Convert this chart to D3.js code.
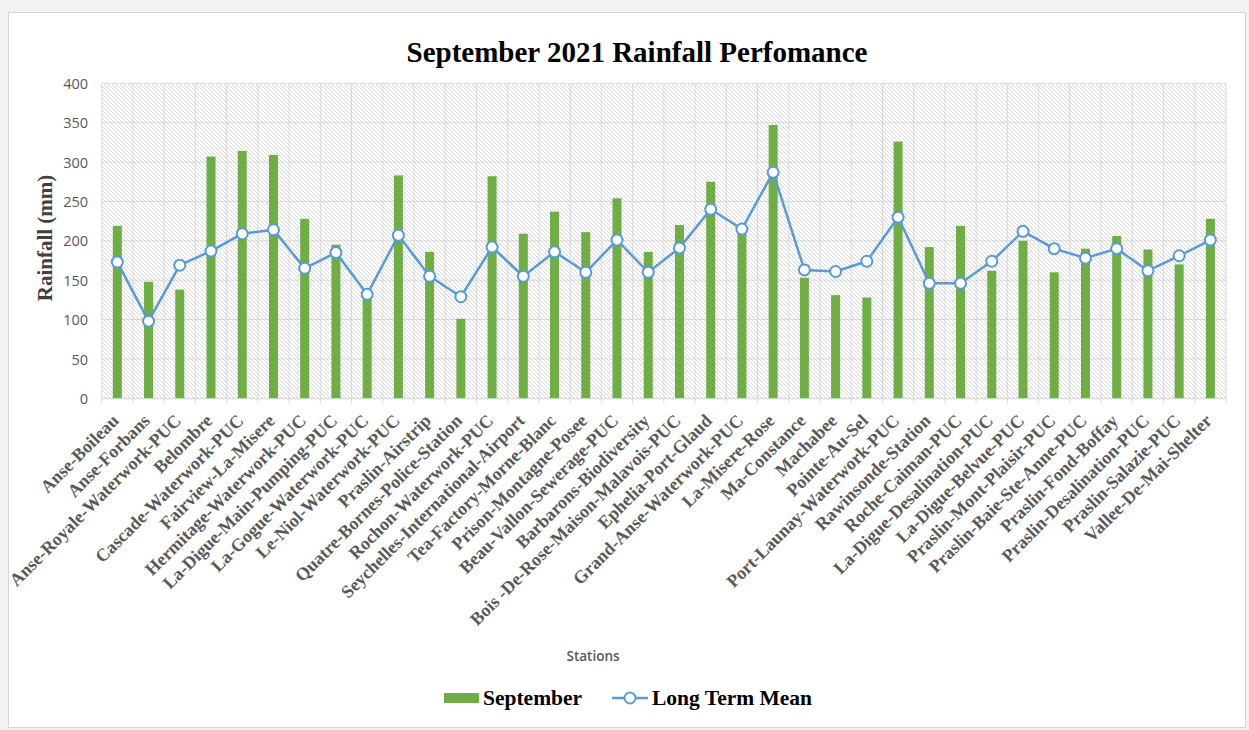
<!DOCTYPE html>
<html>
<head>
<meta charset="utf-8">
<script src="https://cdn.jsdelivr.net/npm/d3@7"></script>
<style>
  html, body { margin: 0; padding: 0; background: #f2f2f2; }
  svg { display: block; }
</style>
</head>
<body>
<svg id="chart" width="1249" height="730"></svg>
<script>
const stations = [
  "Anse-Boileau", "Anse-Forbans", "Anse-Royale-Waterwork-PUC", "Belombre",
  "Cascade-Waterwork-PUC", "Fairview-La-Misere", "Hermitage-Waterwork-PUC",
  "La-Digue-Main-Pumping-PUC", "La-Gogue-Waterwork-PUC", "Le-Niol-Waterwork-PUC",
  "Praslin-Airstrip", "Quatre-Bornes-Police-Station", "Rochon-Waterwork-PUC",
  "Seychelles-International-Airport", "Tea-Factory-Morne-Blanc", "Prison-Montagne-Posee",
  "Beau-Vallon-Sewerage-PUC", "Barbarons-Biodiversity", "Bois -De-Rose-Maison-Malavois-PUC",
  "Ephelia-Port-Glaud", "Grand-Anse-Waterwork-PUC", "La-Misere-Rose", "Ma-Constance",
  "Machabee", "Pointe-Au-Sel", "Port-Launay-Waterwork-PUC", "Rawinsonde-Station",
  "Roche-Caiman-PUC", "La-Digue-Desalination-PUC", "La-Digue-Belvue-PUC",
  "Praslin-Mont-Plaisir-PUC", "Praslin-Baie-Ste-Anne-PUC", "Praslin-Fond-Boffay",
  "Praslin-Desalination-PUC", "Praslin-Salazie-PUC", "Vallee-De-Mai-Shelter"
];
const september = [
  219, 148, 138, 307, 314, 309, 228, 195, 130, 283,
  186, 101, 282, 209, 237, 211, 254, 186, 220, 275,
  210, 347, 153, 131, 128, 326, 192, 219, 162, 200,
  160, 190, 206, 189, 170, 228
];
const longTermMean = [
  173, 98, 169, 187, 209, 214, 165, 185, 132, 207,
  155, 129, 192, 155, 186, 160, 201, 160, 191, 240,
  215, 287, 163, 161, 174, 230, 146, 146, 174, 212,
  190, 178, 190, 162, 181, 201
];
const yTicks = [0, 50, 100, 150, 200, 250, 300, 350, 400];

const W = 1249, H = 730;
const margin = { left: 101.7, right: W - 1226, top: 83.3, bottom: H - 398.3 };
const svg = d3.select("#chart");

// chart frame
svg.append("rect").attr("x", 8.5).attr("y", 12.5).attr("width", 1237).attr("height", 715)
  .attr("fill", "#ffffff").attr("stroke", "#d4d4d4").attr("stroke-width", 1);

const x = d3.scaleBand().domain(stations).range([margin.left, W - margin.right]);
const y = d3.scaleLinear().domain([0, 400]).range([H - margin.bottom, margin.top]);

// hatch pattern
const defs = svg.append("defs");
const pat = defs.append("pattern").attr("id", "hatch").attr("patternUnits", "userSpaceOnUse")
  .attr("width", 4).attr("height", 4);
pat.append("rect").attr("width", 4).attr("height", 4).attr("fill", "#ffffff");
pat.append("path").attr("d", "M-1,-1 L5,5 M-1,3 L1,5 M3,-1 L5,1")
  .attr("stroke", "#d8d8d8").attr("stroke-width", 1);

svg.append("rect")
  .attr("x", x.range()[0]).attr("y", y(400))
  .attr("width", x.range()[1] - x.range()[0]).attr("height", y(0) - y(400))
  .attr("fill", "url(#hatch)");

// horizontal gridlines
svg.append("g").selectAll("line").data(yTicks).join("line")
  .attr("x1", x.range()[0]).attr("x2", x.range()[1])
  .attr("y1", d => y(d)).attr("y2", d => y(d))
  .attr("stroke", "#d9d9d9").attr("stroke-width", 1);

// vertical gridlines at category boundaries (with outward tick marks)
const bounds = stations.map(s => x(s)).concat([x.range()[1]]);
svg.append("g").selectAll("line").data(bounds).join("line")
  .attr("x1", d => d).attr("x2", d => d)
  .attr("y1", y(400)).attr("y2", y(0) + 5)
  .attr("stroke", "#d9d9d9").attr("stroke-width", 1);

// y axis labels
const yAxis = d3.axisLeft(y).tickValues(yTicks).tickSize(0).tickPadding(0);
const gy = svg.append("g").attr("transform", `translate(${88},0)`).call(yAxis);
gy.select(".domain").remove();
gy.selectAll("text").attr("font-family", "'Open Sans', sans-serif").attr("font-size", 14.5)
  .attr("fill", "#595959").attr("dy", "0.35em");

// bars
const bw = 9;
svg.append("g").selectAll("rect").data(september).join("rect")
  .attr("x", (d, i) => x(stations[i]) + x.bandwidth() / 2 - bw / 2)
  .attr("y", d => y(d)).attr("width", bw).attr("height", d => y(0) - y(d))
  .attr("fill", "#70ad47");

// line
const line = d3.line().x((d, i) => x(stations[i]) + x.bandwidth() / 2).y(d => y(d));
svg.append("path").datum(longTermMean).attr("d", line)
  .attr("fill", "none").attr("stroke", "#5b9bd5").attr("stroke-width", 2.5)
  .attr("stroke-linejoin", "round");
svg.append("g").selectAll("circle").data(longTermMean).join("circle")
  .attr("cx", (d, i) => x(stations[i]) + x.bandwidth() / 2).attr("cy", d => y(d))
  .attr("r", 5.5).attr("fill", "#ffffff").attr("stroke", "#5b9bd5").attr("stroke-width", 2);

// x axis labels
const xAxis = d3.axisBottom(x).tickSize(0).tickPadding(0);
const gx = svg.append("g").attr("transform", `translate(0,${y(0)})`).call(xAxis);
gx.select(".domain").attr("stroke", "#d9d9d9");
gx.selectAll(".tick text")
  .attr("font-family", "'Liberation Serif', 'Times New Roman', serif")
  .attr("font-weight", "bold").attr("font-size", 18).attr("fill", "#595959")
  .attr("text-anchor", "end")
  .attr("transform", "translate(-2,19) rotate(-45)")
  .attr("dy", "0.35em").attr("y", 0).attr("x", 0);

// title
svg.append("text").attr("x", 637).attr("y", 62).attr("text-anchor", "middle")
  .attr("font-family", "'Liberation Serif', 'Times New Roman', serif").attr("font-weight", "bold")
  .attr("font-size", 29).attr("fill", "#000").text("September 2021 Rainfall Perfomance");

// y axis title
svg.append("text").attr("transform", "translate(52,238) rotate(-90)").attr("text-anchor", "middle")
  .attr("font-family", "'Liberation Serif', 'Times New Roman', serif").attr("font-weight", "bold")
  .attr("font-size", 21).attr("fill", "#404040").text("Rainfall (mm)");

// x axis title
svg.append("text").attr("x", 593).attr("y", 661).attr("text-anchor", "middle")
  .attr("font-family", "'Open Sans', sans-serif").attr("font-weight", 600)
  .attr("font-size", 13.5).attr("fill", "#595959").text("Stations");

// legend
const leg = svg.append("g");
leg.append("rect").attr("x", 444).attr("y", 693).attr("width", 35).attr("height", 10).attr("fill", "#70ad47");
leg.append("text").attr("x", 483).attr("y", 705)
  .attr("font-family", "'Liberation Serif', 'Times New Roman', serif").attr("font-weight", "bold")
  .attr("font-size", 21.5).attr("fill", "#000").text("September");
leg.append("line").attr("x1", 612).attr("x2", 648).attr("y1", 698).attr("y2", 698)
  .attr("stroke", "#5b9bd5").attr("stroke-width", 2.5);
leg.append("circle").attr("cx", 630).attr("cy", 698).attr("r", 5.5)
  .attr("fill", "#fff").attr("stroke", "#5b9bd5").attr("stroke-width", 2);
leg.append("text").attr("x", 652).attr("y", 705)
  .attr("font-family", "'Liberation Serif', 'Times New Roman', serif").attr("font-weight", "bold")
  .attr("font-size", 21.5).attr("fill", "#000").text("Long Term Mean");
</script>
</body>
</html>
